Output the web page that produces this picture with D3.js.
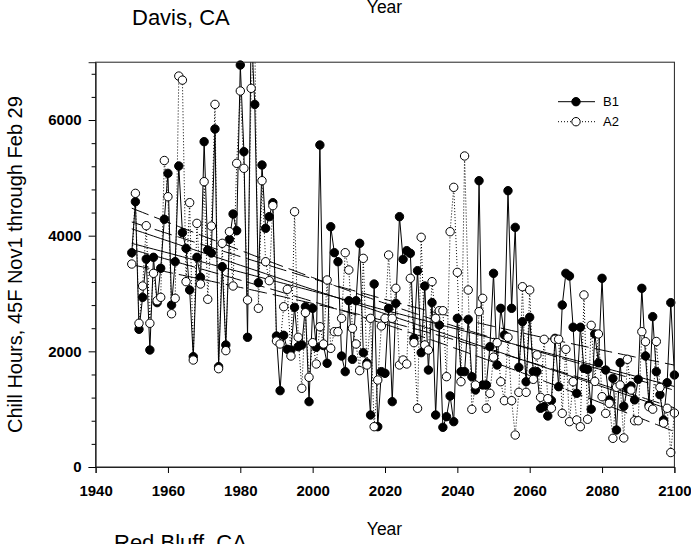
<!DOCTYPE html>
<html><head><meta charset="utf-8">
<script src="https://cdn.jsdelivr.net/npm/d3@7"></script>
<style>body{margin:0;background:#fff}svg{display:block}text{font-family:Arial,"Liberation Sans",sans-serif}</style>
</head><body>
<script>
const firstYear = 1950, lastYear = 2100;
const years = d3.range(firstYear, lastYear + 1);
const B1 = [3706,4588,2381,2934,3597,2023,3626,2842,3436,4283,5078,2800,3551,5205,4052,3781,3061,1908,3626,3280,
5626,3752,3700,5845,1735,3464,2110,3937,4375,4086,6951,5453,2243,7600,6270,3187,5222,4127,4329,4571,
2265,1320,2277,2035,2023,2761,2081,2110,2772,1130,2744,2070,5568,2100,1793,4155,3706,3550,1919,1649,
2876,1862,2876,3868,1977,1800,899,3164,697,1649,1620,2744,1130,2830,4329,3591,3741,3695,2225,3395,
1977,3130,1677,2842,899,2455,686,870,1228,784,2571,1649,1649,2553,1562,1331,4951,1418,1418,2081,
3349,1764,2744,2283,4778,2744,4144,1723,2513,1475,2590,1649,1649,1015,1044,882,1150,2225,1389,2801,
3349,3303,2417,1274,2417,1706,1689,1000,2301,1800,3263,1677,1159,1533,640,1804,1050,1360,1400,1160,
1516,3090,1919,1072,2600,1649,1250,813,1458,2842,1591];
const A2 = [3510,4732,2485,3130,4173,2485,3349,2876,2934,5300,4674,2650,2917,6760,6690,3205,4571,1850,4213,3164,
4934,2900,4167,6271,1700,3868,2012,4069,3130,5251,6502,5165,2888,6548,7400,2744,4951,3550,3222,4519,
2179,2127,2772,3072,1919,4415,2243,1361,2669,1551,2150,1781,2426,2127,3234,2052,2340,2340,2571,3706,
3407,2398,2127,1666,3608,1764,2571,697,1504,2438,2571,3666,2571,3090,1764,1850,1781,3263,2150,1015,
3972,2110,2023,3205,2571,2703,2703,1562,4069,4836,3366,1475,5378,3061,997,1418,2686,2917,1015,1274,
1900,2150,1475,1147,2243,1147,553,1291,3118,1291,3061,1516,1937,1205,2208,1182,1015,2210,2208,928,
2035,784,1475,813,697,2975,825,2450,1480,2300,1216,927,1101,496,1378,1418,502,1862,1331,800,
800,2340,2167,1043,1000,2170,1375,760,1015,250,934];
const xTicks = [1940,1960,1980,2000,2020,2040,2060,2080,2100];
const yTicks = [0,2000,4000,6000];
const seriesNames = ["B1","A2"];

const W = 691, H = 544;
const L = 95.6, R = 674.4, T = 62.2, B = 467;
const x = d3.scaleLinear().domain([1940,2100]).range([L,R]);
const y = d3.scaleLinear().domain([0,7000]).range([B,T]);

const svg = d3.select("body").append("svg").attr("width",W).attr("height",H);
svg.append("rect").attr("width",W).attr("height",H).attr("fill","#fff");
const defs = svg.append("defs");
defs.append("clipPath").attr("id","plot").append("rect").attr("x",L).attr("y",T).attr("width",R-L).attr("height",B-T);
defs.append("clipPath").attr("id","mk").append("rect").attr("x",L-10).attr("y",T-6).attr("width",R-L+20).attr("height",B-T+16);

// regression with 95% confidence bands
function fit(vals){
  const n = vals.length;
  const xb = d3.mean(years), yb = d3.mean(vals);
  let sxx=0, sxy=0;
  years.forEach((yr,i)=>{sxx+=(yr-xb)**2; sxy+=(yr-xb)*(vals[i]-yb);});
  const b = sxy/sxx, a = yb - b*xb;
  let sse=0; years.forEach((yr,i)=>{sse+=(vals[i]-(a+b*yr))**2;});
  const s = Math.sqrt(sse/(n-2)), t = 1.976;
  return years.map(yr=>{
    const yh = a+b*yr, h = t*s*Math.sqrt(1/n+(yr-xb)**2/sxx);
    return {yr, yh, lo: yh-h, hi: yh+h};
  });
}
const plot = svg.append("g").attr("clip-path","url(#plot)");
const lineOf = key => d3.line().x(d=>x(d.yr)).y(d=>y(d[key]));
[B1,A2].forEach((vals)=>{
  const pts = fit(vals);
  plot.append("path").attr("d",lineOf("yh")(pts)).attr("fill","none").attr("stroke","#000").attr("stroke-width",1);
  ["lo","hi"].forEach(k=>plot.append("path").attr("d",lineOf(k)(pts)).attr("fill","none").attr("stroke","#000").attr("stroke-width",1).attr("stroke-dasharray","18,6"));
});

const dataLine = d3.line().x((d,i)=>x(years[i])).y(d=>y(d));
function drawSeries(vals, filled, dotted){
  plot.append("path").attr("d",dataLine(vals)).attr("fill","none").attr("stroke","#000")
    .attr("stroke-width",1).attr("stroke-dasharray",dotted?"1,2":null);
  svg.append("g").attr("clip-path","url(#mk)").selectAll("circle").data(vals).join("circle")
    .attr("cx",(d,i)=>x(years[i])).attr("cy",d=>y(d)).attr("r",4.2)
    .attr("fill",filled?"#000":"#fff").attr("stroke","#000").attr("stroke-width",1);
}
drawSeries(B1,true,false);
drawSeries(A2,false,true);

// frame
svg.append("rect").attr("x",L).attr("y",T).attr("width",R-L).attr("height",B-T).attr("fill","none").attr("stroke","#222").attr("stroke-width",1);

// axes
const xAxis = svg.append("g").attr("transform",`translate(0,${B})`)
  .call(d3.axisBottom(x).tickValues(xTicks).tickFormat(d3.format("d")).tickSize(6).tickPadding(12));
const yAxis = svg.append("g").attr("transform",`translate(${L},0)`)
  .call(d3.axisLeft(y).tickValues(yTicks).tickFormat(d3.format("d")).tickSize(7).tickPadding(7));
const minor = d3.range(400,7000,400).filter(v=>v%2000!==0);
svg.append("g").attr("transform",`translate(${L},0)`)
  .call(d3.axisLeft(y).tickValues(minor).tickFormat("").tickSize(4)).select(".domain").remove();
[xAxis,yAxis].forEach(g=>{
  g.selectAll("text").attr("font-size",15).attr("font-weight","bold").attr("font-family","Arial, 'Liberation Sans', sans-serif").attr("fill","#000");
  g.selectAll("line").attr("stroke","#000");
  g.select(".domain").attr("stroke","#222");
});

// titles (the top "Year" and "Red Bluff, CA" are cut by the page edges, as in the reference)
svg.append("text").attr("x",132).attr("y",25).attr("font-size",22).text("Davis, CA");
svg.append("text").attr("x",384.5).attr("y",12.7).attr("text-anchor","middle").attr("font-size",17.5).text("Year");
svg.append("text").attr("x",384.5).attr("y",535).attr("text-anchor","middle").attr("font-size",17.5).text("Year");
svg.append("text").attr("x",114).attr("y",550).attr("font-size",22).text("Red Bluff, CA");
svg.append("text").attr("transform",`translate(22,${(T+B)/2}) rotate(-90)`).attr("text-anchor","middle")
  .attr("font-size",20).text("Chill Hours, 45F Nov1 through Feb 29");

// legend
const leg = svg.append("g");
[[101.7,true,false],[121.7,false,true]].forEach(([ly,filled,dotted],i)=>{
  leg.append("line").attr("x1",558).attr("x2",595).attr("y1",ly).attr("y2",ly).attr("stroke","#000")
    .attr("stroke-width",1).attr("stroke-dasharray",dotted?"1,2":null);
  leg.append("circle").attr("cx",576).attr("cy",ly).attr("r",4.2).attr("fill",filled?"#000":"#fff").attr("stroke","#000");
  leg.append("text").attr("x",603).attr("y",ly).attr("dy","0.36em").attr("font-size",13).text(seriesNames[i]);
});
</script>
</body></html>
